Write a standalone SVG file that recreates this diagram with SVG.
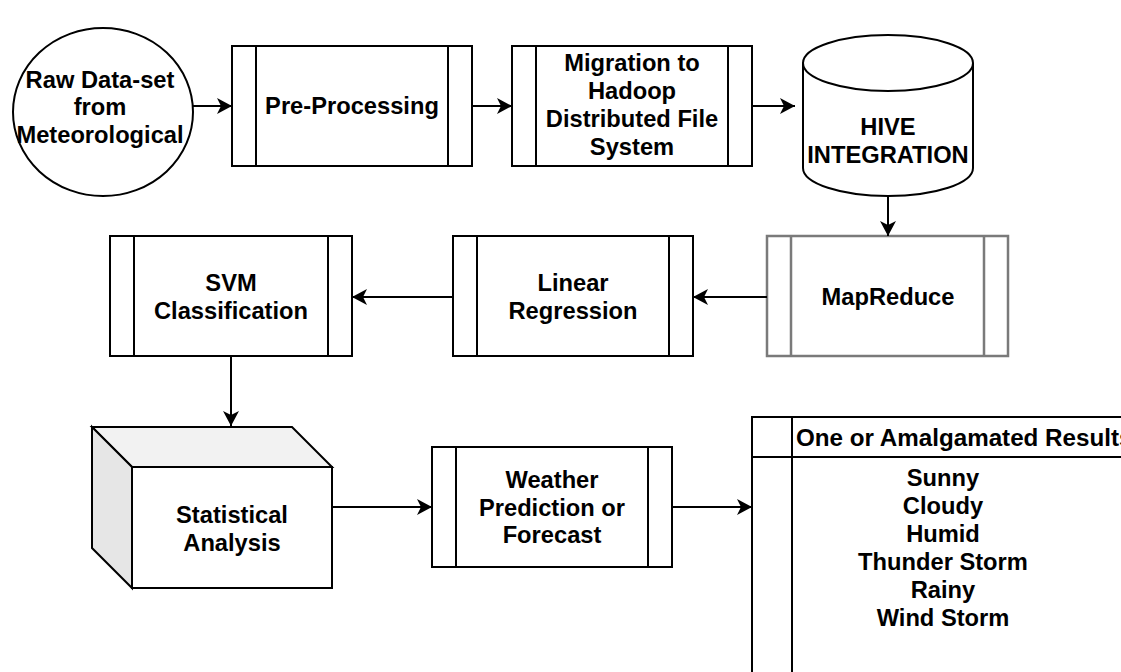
<svg xmlns="http://www.w3.org/2000/svg" width="1121" height="672" viewBox="0 0 1121 672">
  <defs>
    <marker id="arrow" markerUnits="userSpaceOnUse" markerWidth="16" markerHeight="16" refX="15" refY="8" orient="auto">
      <path d="M0,0 L15,8 L0,16 L4,8 Z" fill="#000"/>
    </marker>
    <style>
      .shape { fill: #fff; stroke: #000; stroke-width: 2; }
      .bar { stroke: #000; stroke-width: 2; fill: none; }
      .gray { stroke: #7a7a7a; stroke-width: 2.5; }
      .lbl { font-family: "Liberation Sans", Arial, sans-serif; font-size: 23.7px; font-weight: bold; fill: #000; text-anchor: middle; }
      .edge { stroke: #000; stroke-width: 2; fill: none; marker-end: url(#arrow); }
    </style>
  </defs>
  <rect width="1121" height="672" fill="#fff"/>

  <!-- source data -->
  <g id="raw-data">
    <ellipse class="shape" cx="103" cy="112" rx="90" ry="84"/>
    <text class="lbl" x="100" y="88">Raw Data-set</text>
    <text class="lbl" x="100" y="115">from</text>
    <text class="lbl" x="100" y="143">Meteorological</text>
  </g>

  <g id="pre-processing">
    <rect class="shape" x="232" y="46" width="240" height="120"/>
    <path class="bar" d="M256,46 V166 M448,46 V166"/>
    <text class="lbl" x="352" y="114">Pre-Processing</text>
  </g>

  <g id="migration-hdfs">
    <rect class="shape" x="512" y="46" width="240" height="120"/>
    <path class="bar" d="M536,46 V166 M728,46 V166"/>
    <text class="lbl" x="632" y="71">Migration to</text>
    <text class="lbl" x="632" y="99">Hadoop</text>
    <text class="lbl" x="632" y="127">Distributed File</text>
    <text class="lbl" x="632" y="155">System</text>
  </g>

  <g id="hive-integration">
    <path class="shape" d="M803,63 V168 A85,28 0 0 0 973,168 V63"/>
    <ellipse class="shape" cx="888" cy="63" rx="85" ry="28"/>
    <text class="lbl" x="888" y="135">HIVE</text>
    <text class="lbl" x="888" y="163">INTEGRATION</text>
  </g>

  <g id="mapreduce">
    <rect class="shape gray" x="767" y="236" width="241" height="120"/>
    <path class="bar gray" d="M791,236 V356 M984,236 V356"/>
    <text class="lbl" x="888" y="305">MapReduce</text>
  </g>

  <g id="linear-regression">
    <rect class="shape" x="453" y="236" width="240" height="120"/>
    <path class="bar" d="M477,236 V356 M669,236 V356"/>
    <text class="lbl" x="573" y="291">Linear</text>
    <text class="lbl" x="573" y="319">Regression</text>
  </g>

  <g id="svm-classification">
    <rect class="shape" x="110" y="236" width="242" height="120"/>
    <path class="bar" d="M134,236 V356 M328,236 V356"/>
    <text class="lbl" x="231" y="291">SVM</text>
    <text class="lbl" x="231" y="319">Classification</text>
  </g>

  <g id="statistical-analysis">
    <polygon points="92,427 292,427 332,467 132,467" fill="#f2f2f2" stroke="#000" stroke-width="2"/>
    <polygon points="92,427 132,467 132,588 92,548" fill="#e6e6e6" stroke="#000" stroke-width="2"/>
    <rect class="shape" x="132" y="467" width="200" height="121"/>
    <text class="lbl" x="232" y="523">Statistical</text>
    <text class="lbl" x="232" y="551">Analysis</text>
  </g>

  <g id="weather-forecast">
    <rect class="shape" x="432" y="447" width="240" height="120"/>
    <path class="bar" d="M456,447 V567 M648,447 V567"/>
    <text class="lbl" x="552" y="488">Weather</text>
    <text class="lbl" x="552" y="516">Prediction or</text>
    <text class="lbl" x="552" y="543">Forecast</text>
  </g>

  <g id="results">
    <rect class="shape" x="752" y="417" width="420" height="300"/>
    <path class="bar" d="M752,457 H1172 M792,417 V717"/>
    <text class="lbl" x="796" y="446" style="text-anchor:start;font-size:24.2px">One or Amalgamated Results</text>
    <text class="lbl" x="943" y="486">Sunny</text>
    <text class="lbl" x="943" y="514">Cloudy</text>
    <text class="lbl" x="943" y="542">Humid</text>
    <text class="lbl" x="943" y="570">Thunder Storm</text>
    <text class="lbl" x="943" y="598">Rainy</text>
    <text class="lbl" x="943" y="626">Wind Storm</text>
  </g>

  <g id="connectors">
    <path class="edge" d="M193,106 H232"/>
    <path class="edge" d="M472,106 H512"/>
    <path class="edge" d="M752,106 H795"/>
    <path class="edge" d="M888,196 V236"/>
    <path class="edge" d="M767,297 H693"/>
    <path class="edge" d="M453,297 H352"/>
    <path class="edge" d="M231,356 V426"/>
    <path class="edge" d="M332,507 H432"/>
    <path class="edge" d="M672,507 H752"/>
  </g>
</svg>
